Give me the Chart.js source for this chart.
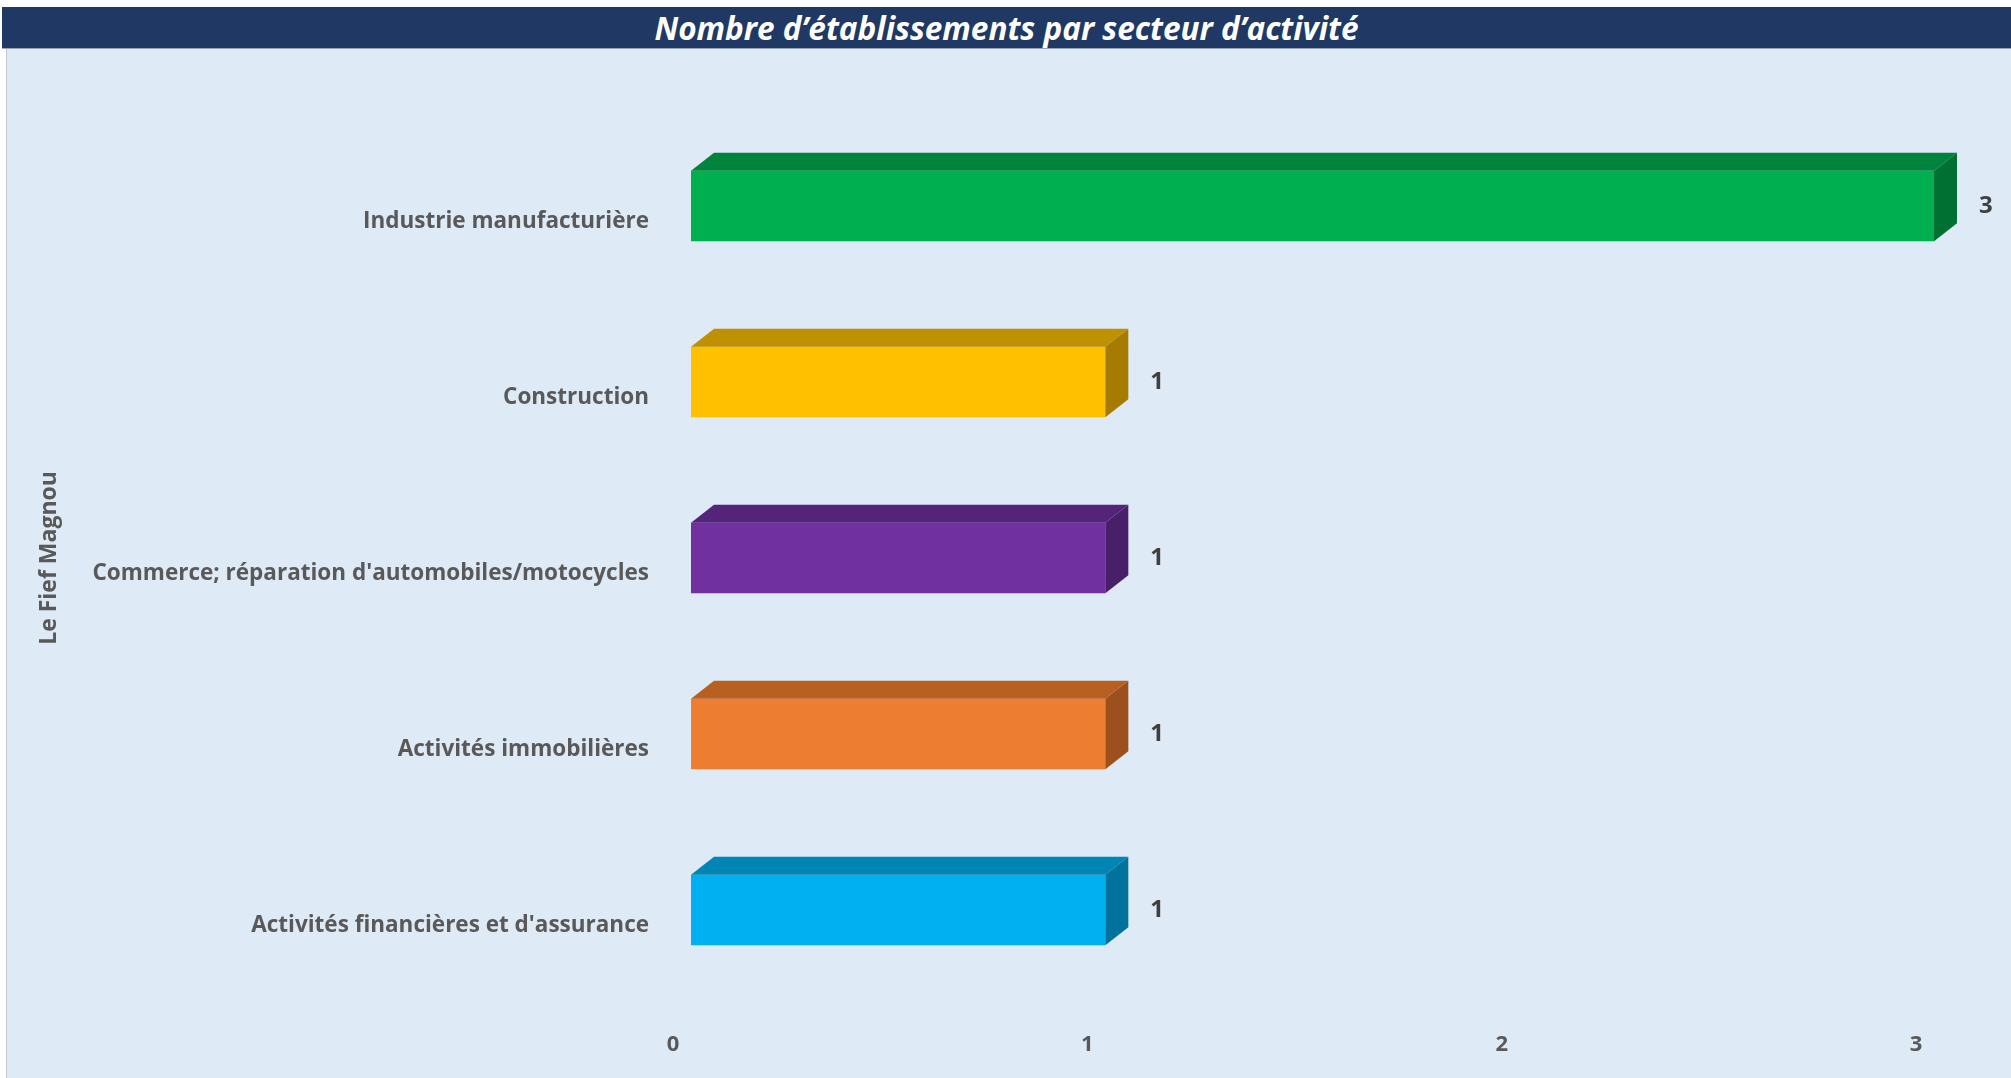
<!DOCTYPE html>
<html>
<head>
<meta charset="utf-8">
<script src="https://cdn.jsdelivr.net/npm/chart.js@4"></script>
<style>
body { margin: 0; background: #fff; width: 2011px; height: 1078px; overflow: hidden; font-family: "Open Sans", sans-serif; }
#entete { position: absolute; left: 2px; top: 7px; width: 2009px; height: 41px; background: #1f3864; color: #fff;
  font-weight: bold; font-style: italic; font-size: 31.5px; line-height: 41px; text-align: center; border-bottom: 1px solid #9aa3b0; }
#cadre { position: absolute; left: 6px; top: 49px; width: 2004px; height: 1029px; background: #deeaf6; border-left: 1px solid #c8c8c8; }
canvas { display: block; }
</style>
</head>
<body>
<div id="entete">Nombre d’établissements par secteur d’activité</div>
<div id="cadre"><canvas id="graphique" width="2004" height="1029"></canvas></div>
<script>
var secteurs = ["Industrie manufacturière", "Construction", "Commerce; réparation d'automobiles/motocycles", "Activités immobilières", "Activités financières et d'assurance"];
var etablissements = [3, 1, 1, 1, 1];
var graduations = [0, 1, 2, 3];
var commune = "Le Fief Magnou";

var couleurFace = ["#00b050", "#ffc000", "#7030a0", "#ed7d31", "#00b0f0"];
var couleurDessus = ["#00843c", "#bf9000", "#54247a", "#b85f22", "#0085b5"];
var couleurCote = ["#006f32", "#a67c00", "#481f69", "#9c501d", "#00729b"];

// faces du dessus et de cote pour l'effet 3D, plus les valeurs
var relief = {
  id: 'relief',
  afterDatasetsDraw: function (chart) {
    var ctx = chart.ctx;
    var dx = 23, dy = 18;
    chart.getDatasetMeta(0).data.forEach(function (bar, i) {
      var haut = bar.y - bar.height / 2;
      var bas = bar.y + bar.height / 2;
      ctx.save();
      ctx.fillStyle = couleurDessus[i];
      ctx.beginPath();
      ctx.moveTo(bar.base, haut);
      ctx.lineTo(bar.base + dx, haut - dy);
      ctx.lineTo(bar.x + dx, haut - dy);
      ctx.lineTo(bar.x, haut);
      ctx.closePath();
      ctx.fill();
      ctx.fillStyle = couleurCote[i];
      ctx.beginPath();
      ctx.moveTo(bar.x, haut);
      ctx.lineTo(bar.x + dx, haut - dy);
      ctx.lineTo(bar.x + dx, bas - dy);
      ctx.lineTo(bar.x, bas);
      ctx.closePath();
      ctx.fill();
      ctx.fillStyle = '#404040';
      ctx.font = 'bold 24px "Open Sans"';
      ctx.textAlign = 'left';
      ctx.textBaseline = 'middle';
      ctx.fillText(etablissements[i], bar.x + 45, bar.y);
      ctx.restore();
    });
  }
};

var chart = new Chart(document.getElementById("graphique"), {
  type: 'bar',
  data: {
    labels: secteurs,
    datasets: [{
      data: etablissements,
      backgroundColor: couleurFace,
      borderWidth: 0,
      barPercentage: 0.4,
      categoryPercentage: 1
    }]
  },
  options: {
    indexAxis: 'y',
    responsive: false,
    animation: false,
    layout: { padding: { top: 69, right: 77, left: 0, bottom: 0 } },
    plugins: { legend: { display: false }, tooltip: { enabled: false } },
    scales: {
      x: {
        min: 0, max: 3,
        grid: { display: false, drawTicks: false },
        border: { display: false },
        afterBuildTicks: function (s) { s.ticks = graduations.map(function (v) { return { value: v }; }); },
        afterFit: function (s) { s.height = 80; },
        ticks: { color: '#595959', font: { family: 'Open Sans', size: 22, weight: 'bold' }, padding: 34, labelOffset: -18 }
      },
      y: {
        grid: { display: false, drawTicks: false },
        border: { display: false },
        afterFit: function (s) { s.width = 684; },
        ticks: { color: '#595959', font: { family: 'Open Sans', size: 22.5, weight: 'bold' }, padding: 42, labelOffset: 16 },
        title: { display: true, text: commune, color: '#595959', font: { family: 'Open Sans', size: 23, weight: 'bold' }, padding: { top: 29, bottom: 0 } }
      }
    }
  },
  plugins: [relief]
});
</script>
</body>
</html>
